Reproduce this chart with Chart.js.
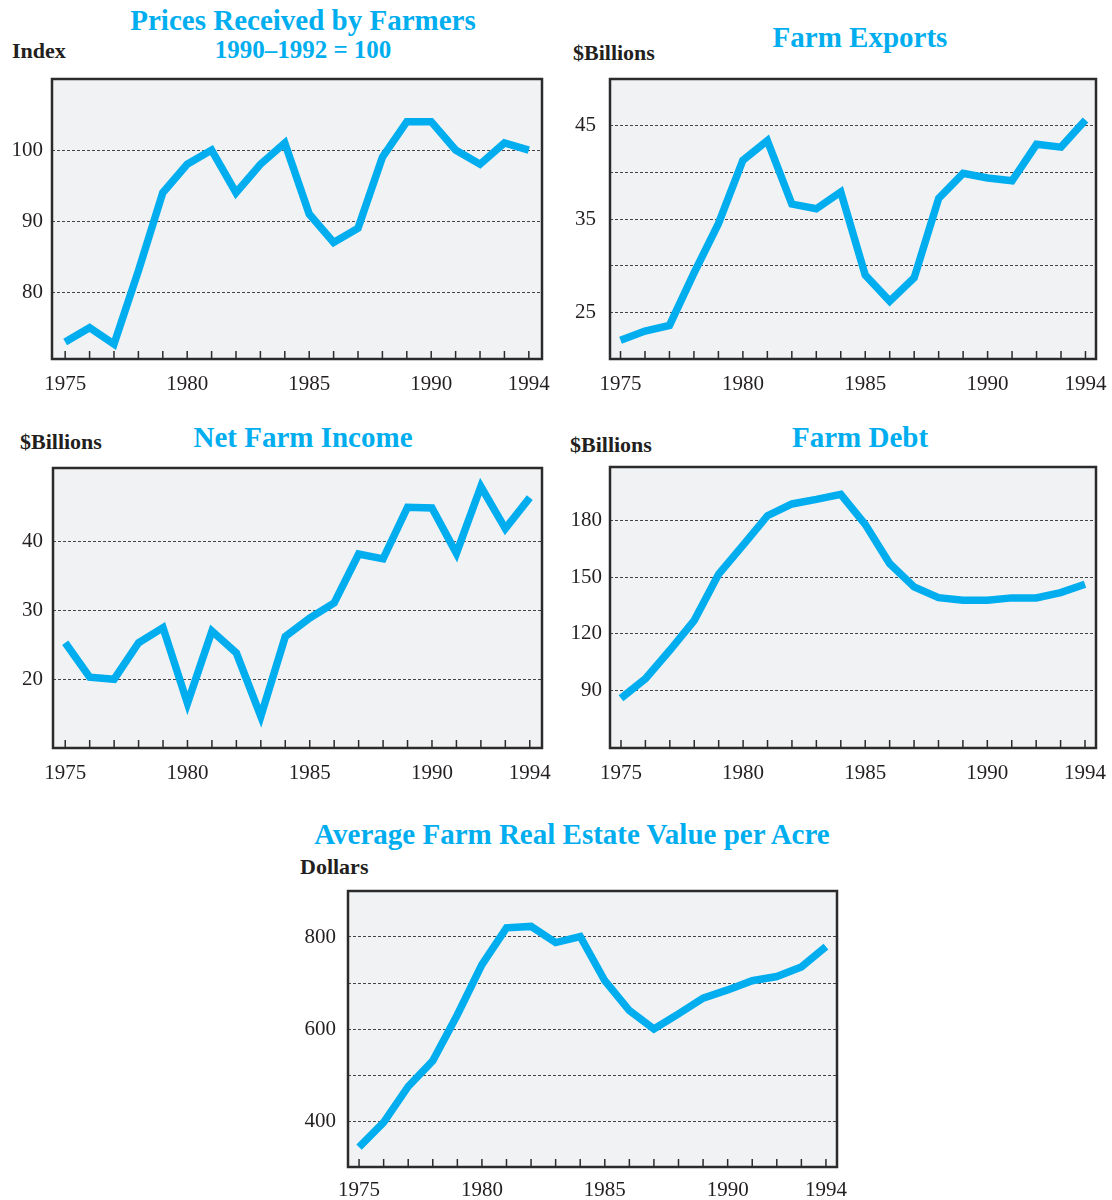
<!DOCTYPE html>
<html>
<head>
<meta charset="utf-8">
<script src="https://cdn.jsdelivr.net/npm/chart.js@4.4.1/dist/chart.umd.min.js"></script>
<style>
  body { margin: 0; background: #fff; }
  #page { position: relative; width: 1112px; height: 1200px; font-family: "Liberation Serif", serif; }
  .title { position: absolute; color: #00AEEF; font-weight: bold; font-size: 29px; line-height: 29px; white-space: nowrap; transform: translateX(-50%); }
  .sub { font-size: 25px; line-height: 25px; }
  .unit { position: absolute; color: #231F20; font-weight: bold; font-size: 22px; line-height: 22px; white-space: nowrap; }
  .box { position: absolute; }
</style>
</head>
<body>
<div id="page">
  <div class="title" style="left:303px; top:6px;">Prices Received by Farmers</div>
  <div class="title sub" style="left:303px; top:37px;">1990–1992 = 100</div>
  <div class="unit" style="left:12px; top:40px;">Index</div>

  <div class="title" style="left:860px; top:23px;">Farm Exports</div>
  <div class="unit" style="left:573px; top:42px;">$Billions</div>

  <div class="title" style="left:303px; top:423px;">Net Farm Income</div>
  <div class="unit" style="left:20px; top:431px;">$Billions</div>

  <div class="title" style="left:860px; top:423px;">Farm Debt</div>
  <div class="unit" style="left:570px; top:434px;">$Billions</div>

  <div class="title" style="left:572px; top:820px;">Average Farm Real Estate Value per Acre</div>
  <div class="unit" style="left:300px; top:856px;">Dollars</div>

  <div class="box" style="left:0px; top:60px; width:556px; height:345px;"><canvas id="prices"></canvas></div>
  <div class="box" style="left:556px; top:60px; width:556px; height:345px;"><canvas id="exports"></canvas></div>
  <div class="box" style="left:0px; top:450px; width:556px; height:345px;"><canvas id="income"></canvas></div>
  <div class="box" style="left:556px; top:450px; width:556px; height:345px;"><canvas id="debt"></canvas></div>
  <div class="box" style="left:280px; top:875px; width:580px; height:325px;"><canvas id="land"></canvas></div>
</div>

<script>
const years = [1975, 1976, 1977, 1978, 1979, 1980, 1981, 1982, 1983, 1984,
               1985, 1986, 1987, 1988, 1989, 1990, 1991, 1992, 1993, 1994];
const yearLabels = [1975, 1980, 1985, 1990, 1994];

const prices  = [73, 75, 72.7, 83, 94, 98, 100, 94, 98, 101, 91, 87, 89, 99, 104, 104, 100, 98, 101, 100];
const exportsB = [22.0, 23.0, 23.6, 29.2, 34.5, 41.3, 43.4, 36.6, 36.1, 37.9, 29.0, 26.2, 28.7, 37.2, 39.9, 39.4, 39.1, 43.0, 42.7, 45.6];
const income  = [25.3, 20.3, 20.0, 25.3, 27.5, 16.5, 27.0, 23.8, 14.6, 26.2, 28.9, 31.1, 38.2, 37.5, 45.0, 44.9, 38.3, 48.0, 41.9, 46.4];
const debt    = [85.9, 96.2, 111.3, 127.2, 151.7, 167.1, 182.7, 188.9, 191.3, 194.0, 178.1, 157.3, 144.9, 139.2, 137.8, 137.8, 139.1, 139.1, 141.9, 146.3];
const land    = [343, 397, 475, 531, 631, 740, 820, 823, 788, 801, 705, 640, 600, 633, 667, 685, 705, 714, 735, 779];

const pricesTicks  = [80, 90, 100];
const exportsTicks = [25, 30, 35, 40, 45];
const exportsShown = [25, 35, 45];
const incomeTicks  = [20, 30, 40];
const debtTicks    = [90, 120, 150, 180];
const landTicks    = [400, 500, 600, 700, 800];
const landShown    = [400, 600, 800];

const LINE = '#00AEEF';
const INK = '#231F20';

const framePlugin = {
  id: 'frame',
  beforeDraw(chart) {
    const a = chart.chartArea, ctx = chart.ctx;
    ctx.save();
    ctx.fillStyle = '#F1F2F4';
    ctx.fillRect(a.left, a.top, a.right - a.left, a.bottom - a.top);
    ctx.restore();
  },
  afterDraw(chart) {
    const a = chart.chartArea, ctx = chart.ctx, x = chart.scales.x;
    ctx.save();
    ctx.strokeStyle = '#2b2b2b';
    ctx.lineWidth = 1.5;
    years.forEach(function (yr) {
      const px = x.getPixelForValue(yr);
      ctx.beginPath();
      ctx.moveTo(px, a.bottom);
      ctx.lineTo(px, a.bottom - 8);
      ctx.stroke();
    });
    ctx.lineWidth = 2.5;
    ctx.strokeRect(a.left, a.top, a.right - a.left, a.bottom - a.top);
    ctx.restore();
  }
};

function makeChart(id, values, opt) {
  const ctx = document.getElementById(id).getContext('2d');
  const points = years.map(function (yr, i) { return { x: yr, y: values[i] }; });
  return new Chart(ctx, {
    type: 'line',
    data: {
      datasets: [{
        data: points,
        borderColor: LINE,
        borderWidth: 7.5,
        borderCapStyle: 'butt',
        borderJoinStyle: 'miter',
        pointRadius: 0,
        tension: 0,
        fill: false
      }]
    },
    options: {
      responsive: true,
      maintainAspectRatio: false,
      animation: false,
      events: [],
      layout: { padding: { top: opt.padTop, right: opt.padRight, left: 0, bottom: 0 } },
      plugins: { legend: { display: false }, tooltip: { enabled: false } },
      scales: {
        x: {
          type: 'linear',
          min: 1975 - opt.xPad,
          max: 1994 + opt.xPad,
          afterBuildTicks: function (s) { s.ticks = yearLabels.map(function (v) { return { value: v }; }); },
          afterFit: function (s) {
            s.height = opt.xHeight;
            s.paddingLeft = 0; s.paddingRight = 0;
          },
          grid: { display: false, drawTicks: false },
          border: { display: false },
          ticks: {
            padding: opt.xLabelPad,
            maxRotation: 0,
            autoSkip: false,
            color: INK,
            font: { family: 'Liberation Serif', size: 21 },
            callback: function (v) { return String(v); }
          }
        },
        y: {
          min: opt.yMin,
          max: opt.yMax,
          afterBuildTicks: function (s) { s.ticks = opt.yTicks.map(function (v) { return { value: v }; }); },
          afterFit: function (s) {
            s.width = opt.yWidth;
            s.paddingTop = 0; s.paddingBottom = 0;
          },
          grid: { color: '#444', lineWidth: 1, drawTicks: false },
          border: { display: false, dash: [3, 2] },
          ticks: {
            padding: opt.yLabelPad,
            color: INK,
            font: { family: 'Liberation Serif', size: 21 },
            callback: function (v) { return opt.yShown.indexOf(v) >= 0 ? String(v) : ''; }
          }
        }
      }
    },
    plugins: [framePlugin]
  });
}

makeChart('prices', prices, {
  yMin: 70.6, yMax: 110, yTicks: pricesTicks, yShown: pricesTicks,
  xPad: 0.54, padTop: 19, padRight: 14, yWidth: 52, xHeight: 46, xLabelPad: 13, yLabelPad: 9
});
makeChart('exports', exportsB, {
  yMin: 20, yMax: 50, yTicks: exportsTicks, yShown: exportsShown,
  xPad: 0.43, padTop: 19, padRight: 16, yWidth: 54, xHeight: 46, xLabelPad: 13, yLabelPad: 14
});
makeChart('income', income, {
  yMin: 10, yMax: 50.7, yTicks: incomeTicks, yShown: incomeTicks,
  xPad: 0.5, padTop: 18, padRight: 14, yWidth: 53, xHeight: 47, xLabelPad: 13, yLabelPad: 10
});
makeChart('debt', debt, {
  yMin: 59.5, yMax: 208.5, yTicks: debtTicks, yShown: debtTicks,
  xPad: 0.45, padTop: 17, padRight: 16, yWidth: 54, xHeight: 47, xLabelPad: 13, yLabelPad: 8
});
makeChart('land', land, {
  yMin: 300, yMax: 900, yTicks: landTicks, yShown: landShown,
  xPad: 0.45, padTop: 16, padRight: 23, yWidth: 68, xHeight: 33, xLabelPad: 11, yLabelPad: 12
});
</script>
</body>
</html>
